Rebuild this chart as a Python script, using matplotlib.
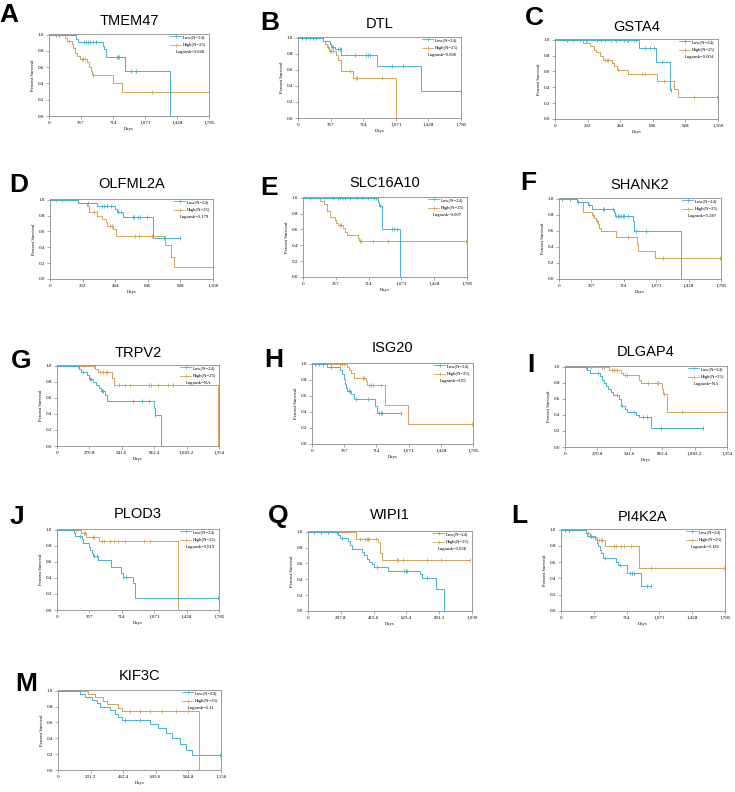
import numpy as np
import matplotlib
matplotlib.use("Agg")
import matplotlib.pyplot as plt
from matplotlib.lines import Line2D

# ---------------- data ----------------
genes = ["TMEM47", "DTL", "GSTA4", "OLFML2A", "SLC16A10", "SHANK2", "TRPV2",
         "ISG20", "DLGAP4", "PLOD3", "WIPI1", "PI4K2A", "KIF3C"]
letters = ["A", "B", "C", "D", "E", "F", "G", "H", "I", "J", "Q", "L", "M"]
logrank = ["0.048", "0.088", "0.004", "0.179", "0.007", "0.287", "NA",
           "0.05", "NA", "0.019", "0.028", "0.181", "0.11"]
low_label = "Low(N=24)"
high_label = "High(N=25)"

ticks_1785 = [0, 357, 714, 1071, 1428, 1785]
ticks_1160 = [0, 232, 464, 696, 928, 1160]
ticks_1354 = [0, 270.8, 541.6, 812.4, 1083.2, 1354]
ticks_1039 = [0, 207.8, 415.6, 623.4, 831.2, 1039]
ticks_1156 = [0, 231.2, 462.4, 693.6, 924.8, 1156]

# TMEM47
a_low_t = [300, 327, 597, 616, 634, 850, 1354]
a_low_s = [0.95, 0.91, 0.86, 0.82, 0.73, 0.55, 0.0]
a_low_c = [78, 115, 390, 412, 430, 456, 486, 523, 761, 775, 783, 920, 968]
a_high_t = [178, 197, 252, 271, 289, 308, 345, 427, 449, 464, 479, 709, 816]
a_high_s = [0.96, 0.92, 0.88, 0.84, 0.78, 0.74, 0.70, 0.66, 0.60, 0.55, 0.50, 0.40, 0.30]
a_high_c = [78, 115, 226, 364, 382, 401, 486, 494, 1150, 1781]

# DTL
b_low_t = [274, 347, 366, 403, 476, 860, 1346]
b_low_s = [0.96, 0.92, 0.88, 0.86, 0.78, 0.65, 0.33]
b_low_c = [44, 84, 128, 165, 201, 373, 384, 439, 457, 468, 622, 750, 768, 786, 1031, 1152, 1783]
b_high_t = [274, 293, 322, 336, 421, 439, 468, 604, 1068]
b_high_s = [0.96, 0.92, 0.88, 0.84, 0.78, 0.72, 0.58, 0.50, 0.0]
b_high_c = [44, 84, 128, 165, 201, 329, 348, 366, 384, 567, 640, 647, 925]

# GSTA4
c_low_t = [599, 718, 820]
c_low_s = [0.90, 0.72, 0.36]
c_low_c = [83, 221, 226, 302, 326, 356, 397, 435, 492, 511, 523, 563, 577, 642, 677, 701, 765, 825]
c_high_t = [202, 250, 274, 293, 317, 345, 404, 421, 440, 516, 725, 844, 872]
c_high_s = [0.96, 0.92, 0.87, 0.84, 0.79, 0.74, 0.71, 0.67, 0.62, 0.565, 0.48, 0.38, 0.28]
c_high_c = [83, 126, 178, 357, 368, 380, 447, 618, 642, 773, 991, 1153]

# OLFML2A
d_low_t = [200, 333, 463, 480, 523, 730]
d_low_s = [0.96, 0.92, 0.88, 0.85, 0.775, 0.52]
d_low_c = [273, 368, 385, 409, 435, 487, 504, 590, 601, 625, 642, 689, 808, 927]
d_high_t = [200, 266, 280, 338, 368, 399, 409, 451, 471, 820, 860, 880]
d_high_s = [0.96, 0.92, 0.84, 0.80, 0.76, 0.72, 0.67, 0.63, 0.54, 0.43, 0.28, 0.146]
d_high_c = [43, 83, 316, 333, 428, 440, 606, 630, 725, 1158]

# SLC16A10
e_low_t = [812, 830, 863, 1056]
e_low_s = [0.94, 0.90, 0.60, 0.0]
e_low_c = [80, 328, 383, 401, 430, 455, 514, 583, 645, 710, 772, 790, 838, 965, 991, 1020]
e_high_t = [182, 226, 266, 291, 346, 364, 383, 437, 455, 477, 594, 612]
e_high_s = [0.96, 0.92, 0.83, 0.755, 0.72, 0.68, 0.66, 0.62, 0.57, 0.53, 0.49, 0.45]
e_high_c = [401, 419, 619, 630, 758, 922, 1774]

# SHANK2
f_low_t = [201, 323, 359, 608, 619, 810, 825, 1341]
f_low_s = [0.96, 0.92, 0.87, 0.83, 0.79, 0.72, 0.60, 0.0]
f_low_c = [29, 121, 213, 334, 487, 498, 590, 627, 652, 663, 682, 700, 718, 755, 843, 964]
f_high_t = [201, 268, 363, 385, 407, 425, 443, 462, 627, 854, 872, 1056]
f_high_s = [0.96, 0.84, 0.80, 0.76, 0.72, 0.68, 0.64, 0.60, 0.52, 0.43, 0.35, 0.26]
f_high_c = [29, 121, 194, 370, 414, 762, 1147, 1770]

# TRPV2
g_low_t = [184, 203, 251, 267, 301, 329, 351, 371, 398, 418, 808, 819, 869]
g_low_s = [0.96, 0.92, 0.88, 0.84, 0.80, 0.76, 0.72, 0.68, 0.64, 0.56, 0.47, 0.38, 0.0]
g_low_c = [217, 279, 287, 376, 384, 635, 713, 769, 822]
g_high_t = [315, 343, 457, 474, 1346]
g_high_s = [0.96, 0.92, 0.85, 0.76, 0.0]
g_high_c = [176, 223, 309, 362, 384, 407, 418, 515, 565, 607, 769, 789, 844, 928, 969]

# ISG20
h_low_t = [166, 307, 333, 351, 370, 381, 388, 436, 462, 702, 721]
h_low_s = [0.96, 0.92, 0.87, 0.81, 0.75, 0.70, 0.66, 0.62, 0.56, 0.47, 0.38]
h_low_c = [37, 81, 118, 207, 407, 425, 492, 621, 739, 761, 776, 990]
h_high_t = [388, 414, 432, 462, 599, 613, 806, 1064]
h_high_s = [0.96, 0.92, 0.88, 0.82, 0.78, 0.735, 0.49, 0.25]
h_high_c = [214, 314, 333, 351, 562, 573, 629, 651, 680, 769, 1778]

# DLGAP4
i_low_t = [187, 207, 291, 313, 327, 341, 361, 383, 403, 450, 467, 501, 520, 593, 618, 716]
i_low_s = [0.96, 0.92, 0.88, 0.84, 0.80, 0.76, 0.72, 0.68, 0.65, 0.60, 0.51, 0.47, 0.43, 0.40, 0.37, 0.24]
i_low_c = [179, 277, 431, 478, 579, 651, 682, 800, 1150]
i_high_t = [369, 467, 481, 621, 632, 811, 817, 856, 1354]
i_high_s = [0.96, 0.92, 0.89, 0.84, 0.80, 0.72, 0.66, 0.44, 0.0]
i_high_c = [179, 215, 313, 327, 389, 411, 434, 501, 515, 696, 766, 775, 828, 976]

# PLOD3
j_low_t = [183, 201, 274, 285, 348, 366, 388, 402, 457, 596, 706, 724, 841, 863]
j_low_s = [0.96, 0.92, 0.88, 0.83, 0.79, 0.75, 0.71, 0.675, 0.62, 0.54, 0.46, 0.41, 0.33, 0.144]
j_low_c = [249, 413, 439, 731, 761, 1774]
j_high_t = [263, 322, 461, 1335]
j_high_s = [0.96, 0.91, 0.86, 0.0]
j_high_c = [212, 293, 311, 402, 413, 494, 523, 585, 633, 677, 750, 958, 1024]

# WIPI1
q_low_t = [188, 202, 255, 266, 276, 344, 356, 371, 386, 403, 419, 508, 708, 723, 814, 862]
q_low_s = [0.96, 0.92, 0.88, 0.83, 0.78, 0.74, 0.70, 0.66, 0.62, 0.59, 0.56, 0.50, 0.46, 0.42, 0.28, 0.0]
q_low_c = [38, 82, 124, 181, 213, 440, 609, 622, 630, 757]
q_high_t = [301, 441, 455, 466]
q_high_s = [0.91, 0.87, 0.73, 0.64]
q_high_c = [38, 82, 124, 181, 329, 360, 375, 381, 388, 428, 561, 571, 601, 757, 841, 1027]

# PI4K2A
l_low_t = [268, 283, 370, 392, 406, 421, 439, 457, 602, 620, 718, 874]
l_low_s = [0.96, 0.92, 0.88, 0.84, 0.80, 0.75, 0.71, 0.65, 0.60, 0.565, 0.47, 0.31]
l_low_c = [40, 87, 312, 330, 475, 639, 747, 773, 791, 936, 983]
l_high_t = [276, 319, 395, 475, 849]
l_high_s = [0.96, 0.91, 0.87, 0.795, 0.53]
l_high_c = [40, 87, 297, 348, 414, 439, 450, 573, 602, 649, 689, 758, 976, 1770]

# KIF3C
m_low_t = [156, 191, 241, 277, 298, 369, 404, 425, 454, 652, 709, 766, 808, 865, 908, 950]
m_low_s = [0.96, 0.92, 0.88, 0.84, 0.80, 0.75, 0.71, 0.67, 0.63, 0.58, 0.53, 0.46, 0.40, 0.33, 0.25, 0.19]
m_low_c = [475, 581, 1149]
m_high_t = [213, 262, 319, 348, 425, 454, 1000]
m_high_s = [0.96, 0.92, 0.87, 0.83, 0.78, 0.74, 0.0]
m_high_c = [510, 581, 652, 737, 837, 922]

panels = [
    (a_low_t, a_low_s, a_low_c, a_high_t, a_high_s, a_high_c, ticks_1785),
    (b_low_t, b_low_s, b_low_c, b_high_t, b_high_s, b_high_c, ticks_1785),
    (c_low_t, c_low_s, c_low_c, c_high_t, c_high_s, c_high_c, ticks_1160),
    (d_low_t, d_low_s, d_low_c, d_high_t, d_high_s, d_high_c, ticks_1160),
    (e_low_t, e_low_s, e_low_c, e_high_t, e_high_s, e_high_c, ticks_1785),
    (f_low_t, f_low_s, f_low_c, f_high_t, f_high_s, f_high_c, ticks_1785),
    (g_low_t, g_low_s, g_low_c, g_high_t, g_high_s, g_high_c, ticks_1354),
    (h_low_t, h_low_s, h_low_c, h_high_t, h_high_s, h_high_c, ticks_1785),
    (i_low_t, i_low_s, i_low_c, i_high_t, i_high_s, i_high_c, ticks_1354),
    (j_low_t, j_low_s, j_low_c, j_high_t, j_high_s, j_high_c, ticks_1785),
    (q_low_t, q_low_s, q_low_c, q_high_t, q_high_s, q_high_c, ticks_1039),
    (l_low_t, l_low_s, l_low_c, l_high_t, l_high_s, l_high_c, ticks_1785),
    (m_low_t, m_low_s, m_low_c, m_high_t, m_high_s, m_high_c, ticks_1156),
]

# ---------------- layout (pixels: left, right, top, bottom) ----------------
W, H = 735, 792
boxes = [(49, 209, 34, 116), (298, 461, 37, 118), (555, 718, 39, 119),
         (50, 213, 199, 279), (303, 467, 197, 277), (559, 721, 198, 279),
         (57, 219, 365, 446), (312, 473, 363, 444), (565, 727, 366, 447),
         (57, 219, 529, 610), (308, 472, 531, 611), (561, 725, 529, 611),
         (58, 221, 690, 770)]
title_y = [21, 24, 27, 184, 183, 185, 353, 348, 352, 514, 515, 517, 676]
letter_xy = [(9, 15), (270, 23), (534, 18), (19, 185), (269, 188), (528, 183),
             (21, 361), (274, 360), (531, 365), (17, 517), (278, 516), (519, 516),
             (26, 684)]
narrow = {"C", "D", "G", "I", "Q", "M"}

LOW = "#45b3cf"
HIGH = "#d3a456"
SPINE = "#8c8c8c"
SERIF = ["Liberation Serif", "DejaVu Serif"]


def tick_label(v):
    return f"{v:,.1f}" if v != int(v) else f"{int(v):,}"


def km(ax, t, s, c, color):
    t = np.asarray(t, float)
    s = np.asarray(s, float)
    c = np.asarray(c, float)
    end = t[-1] if s[-1] == 0 else max(t[-1], c.max() if c.size else 0)
    ax.step(np.r_[0, t, end], np.r_[1, s, s[-1]], where="post", color=color, lw=0.7)
    idx = np.searchsorted(t, c, side="right")
    cy = np.where(idx == 0, 1.0, s[np.maximum(idx - 1, 0)])
    ax.plot(c, cy, ls="none", marker="|", ms=3, mew=0.6, color=color)


fig = plt.figure(figsize=(W / 100, H / 100), dpi=100)

for k, (lt, ls_, lc, ht, hs, hc, xt) in enumerate(panels):
    l, r, t, b = boxes[k]
    ax = fig.add_axes([l / W, 1 - b / H, (r - l) / W, (b - t) / H])
    km(ax, ht, hs, hc, HIGH)
    km(ax, lt, ls_, lc, LOW)
    ax.set_xlim(0, xt[-1])
    ax.set_ylim(0, 1.008)
    ax.set_xticks(xt)
    ax.set_xticklabels([tick_label(v) for v in xt], family=SERIF)
    ax.set_yticks(np.arange(0, 1.01, 0.2))
    ax.set_yticklabels([f"{v:.1f}" for v in np.arange(0, 1.01, 0.2)], family=SERIF)
    ax.tick_params(labelsize=3.6, length=2, width=0.5, color=SPINE, pad=1.5)
    for sp in ax.spines.values():
        sp.set_color(SPINE)
        sp.set_linewidth(0.6)
    ax.set_xlabel("Days", fontsize=3.4, family=SERIF, labelpad=1.5)
    ax.set_ylabel("Percent Survival", fontsize=3.4, family=SERIF, labelpad=2)

    handles = [Line2D([], [], color=LOW, lw=0.6, marker="+", ms=3, mew=0.5),
               Line2D([], [], color=HIGH, lw=0.6, marker="+", ms=3, mew=0.5)]
    ax.legend(handles, [low_label, high_label], loc="upper right",
              bbox_to_anchor=(1.0, 1.03), frameon=False,
              prop={"family": SERIF, "size": 3.4}, handlelength=2.4,
              handletextpad=0.3, labelspacing=0.9, borderaxespad=0.2)
    ax.text(0.795, 0.78, "Logrank=" + logrank[k], transform=ax.transAxes,
            fontsize=3.4, family=SERIF, va="center", ha="left")

    fig.text((l + r) / 2 / W, 1 - title_y[k] / H, genes[k], ha="center",
             va="center", fontsize=10.5, family=["Liberation Sans", "DejaVu Sans"])
    lx, ly = letter_xy[k]
    fam = ["Liberation Sans Narrow", "Liberation Sans"] if letters[k] in narrow \
        else ["Liberation Sans", "DejaVu Sans"]
    fig.text(lx / W, 1 - ly / H, letters[k], ha="center", va="center",
             fontsize=19, weight="bold", family=fam)

fig.savefig("out.png", dpi=100)
